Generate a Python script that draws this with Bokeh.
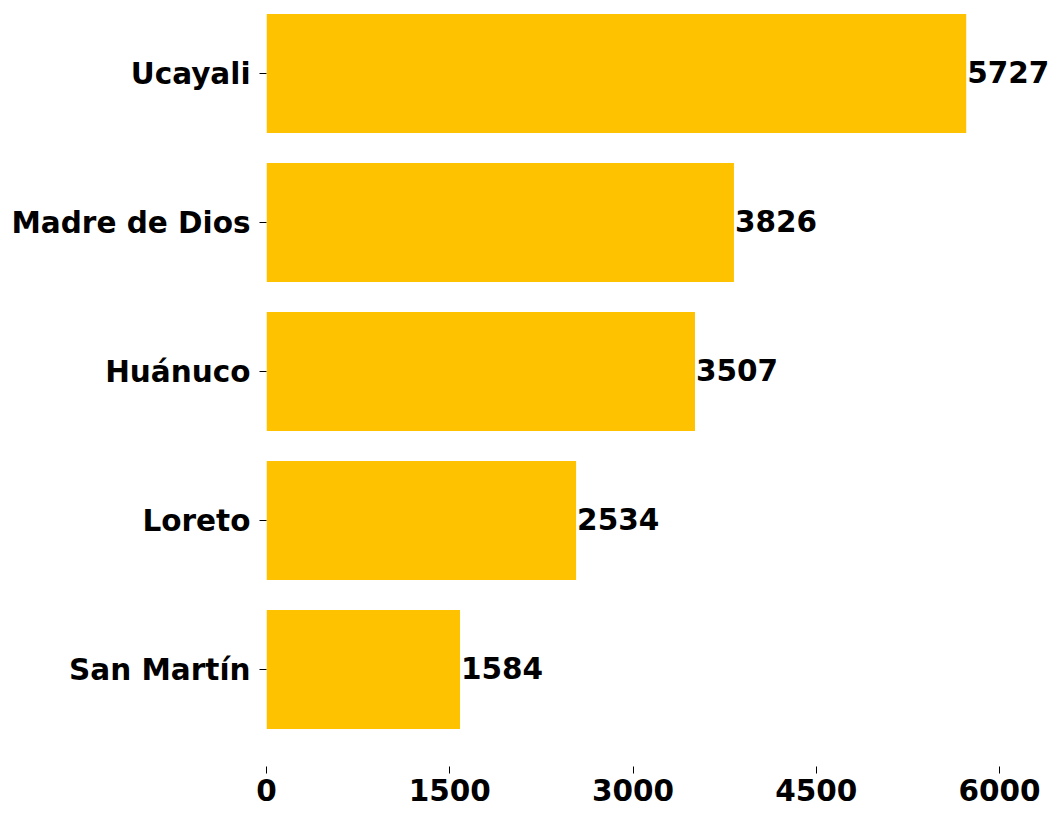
from bokeh.plotting import figure
from bokeh.models import Range1d, FixedTicker, ColumnDataSource
from bokeh.core.properties import value
from bokeh.embed import file_html
from bokeh.resources import INLINE

regions = ["San Martín", "Loreto", "Huánuco", "Madre de Dios", "Ucayali"]
values = [1584, 2534, 3507, 3826, 5727]
x_ticks = [0, 1500, 3000, 4500, 6000]

positions = list(range(len(regions)))
src = ColumnDataSource(dict(y=positions, v=values, label=[str(v) for v in values]))

p = figure(width=1051, height=813, output_backend="svg", toolbar_location=None,
           x_range=Range1d(0, 6425), y_range=Range1d(-0.651, 4.49))
p.min_border = 0
p.min_border_left = 266
p.min_border_right = 0
p.min_border_top = 0
p.min_border_bottom = 47
p.outline_line_color = None
p.xgrid.visible = False
p.ygrid.visible = False
p.background_fill_color = "white"
p.border_fill_color = "white"

FS = "29.5px"
font = "DejaVu Sans"

p.hbar(y="y", right="v", left=0, height=0.8, source=src, color="#FFC200", line_color=None)
p.text(x="v", y="y", text="label", source=src, x_offset=1, y_offset=-2, text_align="left",
       text_baseline="middle", text_font_size=FS, text_font_style="bold",
       text_font=value(font), text_color="black")

p.xaxis.ticker = FixedTicker(ticks=x_ticks)
p.xaxis.axis_line_color = None
p.xaxis.major_tick_out = 7
p.xaxis.major_tick_in = 0
p.xaxis.minor_tick_line_color = None
p.xaxis.major_label_text_font = font
p.xaxis.major_label_text_font_size = FS
p.xaxis.major_label_text_font_style = "bold"
p.xaxis.major_label_text_color = "black"
p.xaxis.major_label_standoff = 5

p.yaxis.ticker = FixedTicker(ticks=positions)
p.yaxis.major_label_overrides = {i: r for i, r in zip(positions, regions)}
p.yaxis.axis_line_color = None
p.yaxis.major_tick_out = 7
p.yaxis.major_tick_in = 0
p.yaxis.minor_tick_line_color = None
p.yaxis.major_label_text_font = font
p.yaxis.major_label_text_font_size = FS
p.yaxis.major_label_text_font_style = "bold"
p.yaxis.major_label_text_color = "black"
p.yaxis.major_label_standoff = 9

open("out.html", "w").write(file_html(p, INLINE))
